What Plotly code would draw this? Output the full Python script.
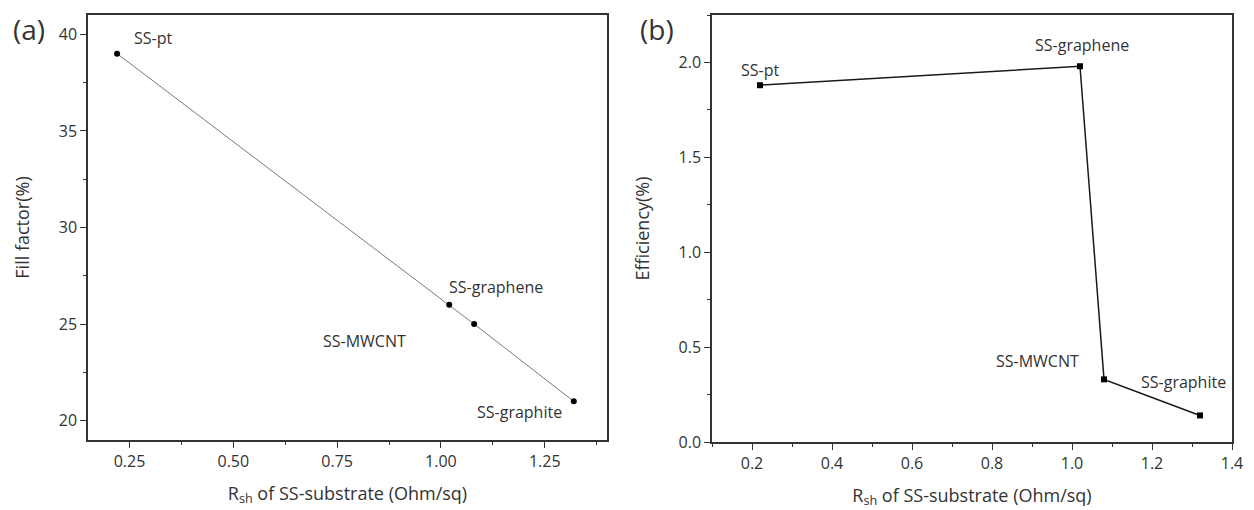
import plotly.graph_objects as go

# Data
labels = ["SS-pt", "SS-graphene", "SS-MWCNT", "SS-graphite"]
rsh = [0.22, 1.02, 1.08, 1.32]
fill_factor = [39, 26, 25, 21]
efficiency = [1.88, 1.98, 0.33, 0.14]

FONT = "Open Sans"
W, H = 1254, 510
ML, MR, MT, MB = 88, 22, 15, 68
PW, PH = W - ML - MR, H - MT - MB

fig = go.Figure()

fig.add_trace(go.Scatter(
    x=rsh, y=fill_factor, mode="lines+markers", xaxis="x", yaxis="y",
    line=dict(color="#7a7a7a", width=1),
    marker=dict(symbol="circle", size=6, color="black"),
    showlegend=False,
))
fig.add_trace(go.Scatter(
    x=rsh, y=efficiency, mode="lines+markers", xaxis="x2", yaxis="y2",
    line=dict(color="#1a1a1a", width=1.5),
    marker=dict(symbol="square", size=6, color="black"),
    showlegend=False,
))

minor_common = dict(ticks="outside", ticklen=3.5, tickwidth=1.2, tickcolor="#333333", showgrid=False)
axis_common = dict(
    showline=True, linecolor="#333333", linewidth=1.5, mirror=True,
    ticks="outside", ticklen=6, tickwidth=1.3, tickcolor="#333333",
    showgrid=False, zeroline=False, automargin=False,
    tickfont=dict(family=FONT, size=16, color="#333333"),
)

xtitle = "R<sub>sh</sub> of SS-substrate (Ohm/sq)"
tfont = dict(family=FONT, size=18, color="#333333")
fig.update_layout(
    width=W, height=H,
    paper_bgcolor="white", plot_bgcolor="white",
    margin=dict(l=ML, r=MR, t=MT, b=MB, autoexpand=False),
    font=dict(family=FONT, color="#333333"),
    xaxis=dict(axis_common, domain=[0, (607 - ML) / PW], range=[0.15, 1.40],
               tickvals=[0.25, 0.50, 0.75, 1.00, 1.25], ticktext=["0.25", "0.50", "0.75", "1.00", "1.25"],
               minor=dict(minor_common, dtick=0.125, tick0=0.125),
               title=dict(text=xtitle, font=tfont, standoff=16),
               anchor="y"),
    yaxis=dict(axis_common, domain=[(442 - 440) / PH, 1], range=[19, 41],
               tickvals=[20, 25, 30, 35, 40],
               minor=dict(minor_common, dtick=2.5, tick0=0),
               title=dict(text="Fill factor(%)", font=tfont, standoff=24),
               anchor="x"),
    xaxis2=dict(axis_common, domain=[(712 - ML) / PW, 1], range=[0.1, 1.4],
                tickvals=[0.2, 0.4, 0.6, 0.8, 1.0, 1.2, 1.4],
                ticktext=["0.2", "0.4", "0.6", "0.8", "1.0", "1.2", "1.4"],
                minor=dict(minor_common, dtick=0.1, tick0=0.1),
                title=dict(text=xtitle, font=tfont, standoff=16),
                anchor="y2"),
    yaxis2=dict(axis_common, domain=[0, 1], range=[0, 2.25],
                tickvals=[0.0, 0.5, 1.0, 1.5, 2.0], ticktext=["0.0", "0.5", "1.0", "1.5", "2.0"],
                minor=dict(minor_common, dtick=0.25, tick0=0),
                title=dict(text="Efficiency(%)", font=tfont, standoff=24),
                anchor="x2"),
)

ann_font = dict(family=FONT, size=16, color="#333333")
# (xanchor, xshift, yshift) per label for each panel
a_pos = [("left", 15, 16), ("left", -2, 18), ("right", -66, -17), ("right", -10, -11)]
b_pos = [("center", 0, 15), ("center", 2, 21), ("right", -23, 18), ("center", -17, 33)]

for i, lab in enumerate(labels):
    xa, xs, ys = a_pos[i]
    fig.add_annotation(x=rsh[i], y=fill_factor[i], xref="x", yref="y", text=lab,
                       showarrow=False, xanchor=xa, yanchor="middle",
                       xshift=xs, yshift=ys, font=ann_font)
    xa, xs, ys = b_pos[i]
    fig.add_annotation(x=rsh[i], y=efficiency[i], xref="x2", yref="y2", text=lab,
                       showarrow=False, xanchor=xa, yanchor="middle",
                       xshift=xs, yshift=ys, font=ann_font)

for txt, px in [("(a)", 29), ("(b)", 657)]:
    fig.add_annotation(x=(px - ML) / PW, y=(H - MB - 29) / PH,
                       xref="paper", yref="paper", text=txt, showarrow=False,
                       xanchor="center", yanchor="middle",
                       font=dict(family=FONT, size=28, color="#333333"))

fig.write_html("out.html",
               config={"displayModeBar": False},
               post_script="document.body.style.margin='0px';document.body.style.overflow='hidden';")
